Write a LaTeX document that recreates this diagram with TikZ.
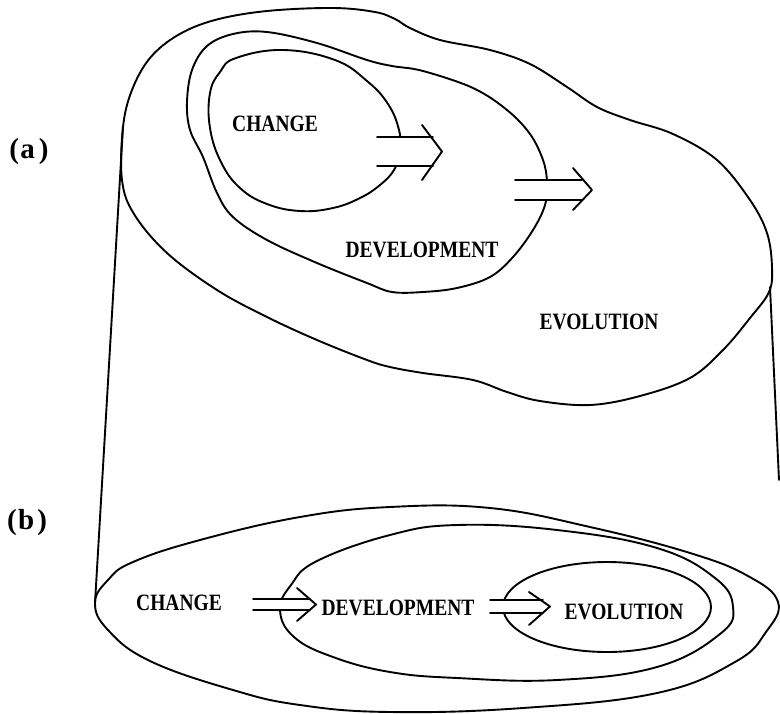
\documentclass[tikz,border=0pt]{standalone}
\usepackage{fontspec}
\setmainfont{Liberation Serif}
\newcommand\lbltxt[1]{\scalebox{1}[1.2]{#1}}
\newcommand\fatarrow[8]{%
  \fill[white] (#1,#4-#5) -- (#2,#4-#5) -- (#3,#4) -- (#2,#4+#5) -- (#1,#4+#5) -- cycle;
  \draw[ln] (#1,#4-#5) -- (#2,#4-#5) (#1,#4+#5) -- (#2,#4+#5);
  \draw[ln] (#6,#4-#7) -- (#3,#4) -- (#6,#4+#8);
}
\tikzset{
  ln/.style={line width=1.9pt, line join=round, line cap=round},
  lbl/.style={inner sep=0pt, font=\bfseries\fontsize{19.5}{20}\selectfont},
  tag/.style={inner sep=0pt, font=\bfseries\fontsize{29}{30}\selectfont}
}
\begin{document}
\begin{tikzpicture}[x=1pt,y=-1pt]
\useasboundingbox (0,0) rectangle (780,713);
% (a) evolution blob
\draw[ln] plot[smooth cycle, tension=0.6] coordinates {
 (123,127) (132,90) (150,58) (178,35) (215,20) (267,11) (333,8) (375,12) (395,19)
 (410,28) (440,40) (490,50) (530,64) (567,87) (597,107) (630,120) (673,134)
 (717,160) (750,200) (767,233) (772,267) (769,292) (750,318) (723,350) (690,378)
 (640,396) (590,405) (540,401) (507,392) (473,380) (423,373) (390,367) (367,360)
 (317,340) (267,317) (217,290) (167,253) (134,214) (122,180)};
% development blob
\draw[ln] plot[smooth cycle, tension=0.6] coordinates {
 (187,102) (192,70) (207,46) (233,34) (267,32) (317,43) (367,60) (392,66)
 (423,71) (473,88) (507,110) (530,134) (543,160) (547,182) (545,205) (533,230)
 (513,257) (490,277) (457,288) (423,292) (392,292) (367,283) (317,263) (267,240)
 (233,217) (217,193) (203,157) (190,130)};
% change ellipse
\draw[ln] plot[smooth cycle, tension=0.7] coordinates {
 (210,93) (220,72) (236,58) (283,50) (335,60) (367,81) (388,104) (399,130)
 (400,152) (394,170) (380,185) (360,198) (333,208) (300,211) (267,204) (240,188)
 (221,162) (210,128)};
% connecting lines
\coordinate (lt) at (123,127);
\coordinate (lb) at (95,603);
\coordinate (rt) at (770,287);
\coordinate (rb) at (779,480);
\draw[ln] (lt) -- (lb);
\draw[ln] (rt) -- (rb);
% (b) ellipses
\draw[ln] plot[smooth cycle, tension=0.7] coordinates {
 (95,603) (108,580) (133,562) (200,540) (300,517) (390,507) (490,508) (590,527)
 (690,553) (748,576) (778,602) (766,632) (735,662) (657,693) (523,708) (390,712)
 (300,705) (233,690) (150,661) (108,630)};
\draw[ln] plot[smooth cycle, tension=0.7] coordinates {
 (280,610) (291,585) (317,561) (390,535) (457,525) (557,530) (657,548) (715,578)
 (733,607) (720,634) (657,667) (557,680) (457,678) (390,672) (333,657) (294,637)};
\draw[ln] (607,607) ellipse [x radius=104pt, y radius=45pt];
% arrows
\fatarrow{377}{433}{442}{151.5}{14.5}{422}{26.5}{28.5}
\fatarrow{515}{582}{592}{190}{10}{573}{22}{20}
\fatarrow{253}{310}{316}{604.5}{5.5}{297}{16.5}{16.5}
\fatarrow{490}{543}{550}{606.5}{6.5}{529}{14.5}{18.5}
% labels
\node[tag] (ta) at (29,152) {(\kern1.5pt a\kern4pt)};
\node[tag] (tb) at (27,523) {(\kern1.5pt b\kern3pt)};
\node[lbl] (chA) at (275,124) {\lbltxt{CHANGE}};
\node[lbl] (deA) at (422,250) {\lbltxt{DEVELOPMENT}};
\node[lbl] (evA) at (599,322) {\lbltxt{EVOLUTION}};
\node[lbl] (chB) at (179,603) {\lbltxt{CHANGE}};
\node[lbl] (deB) at (398,608) {\lbltxt{DEVELOPMENT}};
\node[lbl] (evB) at (624,612) {\lbltxt{EVOLUTION}};
\end{tikzpicture}
\end{document}
